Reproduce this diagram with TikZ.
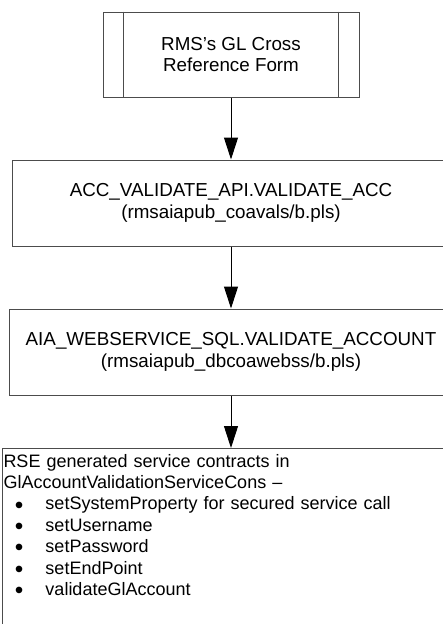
\documentclass[tikz,border=0pt]{standalone}
\usepackage{fontspec}
\setmainfont{Liberation Sans}
\usetikzlibrary{arrows.meta,calc}
\newcommand{\bl}[1]{\makebox[42pt][l]{\hspace{11.5pt}\raisebox{-3.2pt}{\scalebox{1.35}{\textbullet}}}#1}
\begin{document}
\begin{tikzpicture}[x=1pt,y=-1pt,
  box/.style={draw=black!70, line width=1pt, align=center, inner sep=2pt,
    font=\fontsize{18.8}{21.6}\selectfont},
  boxline/.style={draw=black!70, line width=1pt},
  arr/.style={draw=black, line width=1pt, -{Triangle[length=22pt,width=14pt]}}]
\useasboundingbox (0,0) rectangle (443,624);
\clip (0,0) rectangle (443,624);
\node[box, minimum width=256pt, minimum height=85pt] (form) at (231,54.5)
  {RMS’s GL Cross\\Reference Form};
\draw[boxline] ($(form.north west)+(21,0)$) -- ($(form.south west)+(21,0)$);
\draw[boxline] ($(form.north east)+(-21,0)$) -- ($(form.south east)+(-21,0)$);
\node[box, minimum width=436.6pt, minimum height=86pt] (acc) at (231,203)
  {ACC\_VALIDATE\_API.VALIDATE\_ACC\\(rmsaiapub\_coavals/b.pls)};
\node[box, minimum width=444pt, minimum height=86pt] (aia) at (231,352)
  {AIA\_WEBSERVICE\_SQL.VALIDATE\_ACCOUNT\\(rmsaiapub\_dbcoawebss/b.pls)};
\node[box, anchor=north west, align=left, inner xsep=1.5pt, inner ysep=5.5pt,
  text width=470pt, font=\fontsize{18}{21.4}\selectfont] (rse) at (1.5,448)
  {RSE generated service contracts in\\
   GlAccountValidationServiceCons –\\
   \bl{setSystemProperty for secured service call}\\
   \bl{setUsername}\\
   \bl{setPassword}\\
   \bl{setEndPoint}\\
   \bl{validateGlAccount}\\
   \rule{0pt}{40pt}};
\draw[arr] (form.south) -- (form.south |- acc.north);
\draw[arr] (acc.south) -- (acc.south |- aia.north);
\draw[arr] (aia.south) -- (aia.south |- rse.north);
\end{tikzpicture}
\end{document}
